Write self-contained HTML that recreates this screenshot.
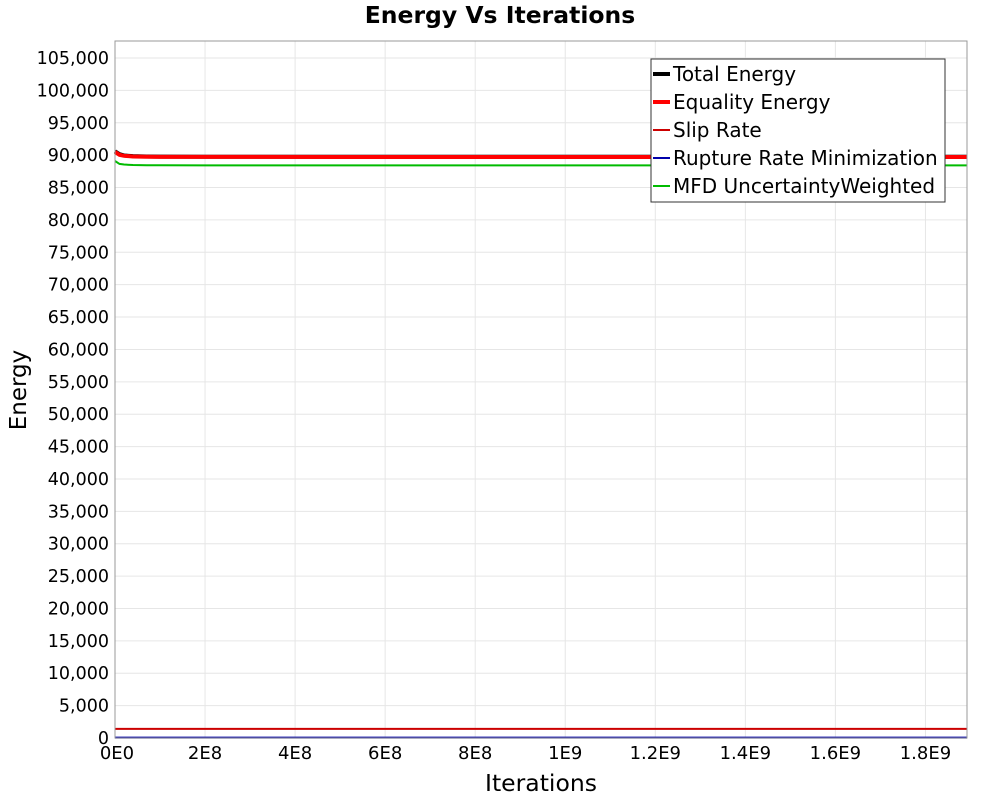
<!DOCTYPE html>
<html><head><meta charset="utf-8"><style>
body{margin:0;background:#fff;font-family:"DejaVu Sans","Liberation Sans",sans-serif;}
svg text{font-family:"DejaVu Sans","Liberation Sans",sans-serif;}
</style></head><body>
<svg id="chart" width="1000" height="800" xmlns="http://www.w3.org/2000/svg">
<rect width="1000" height="800" fill="#fff"/>
<text x="500" y="23" text-anchor="middle" font-size="23.5" font-weight="bold">Energy Vs Iterations</text>
<g id="grid"></g>
<g id="series"></g>
<rect x="115" y="41" width="852" height="697" fill="none" stroke="#999" stroke-width="1"/>
<g id="yticks"></g>
<g id="xticks"></g>
<text transform="translate(26,390) rotate(-90)" text-anchor="middle" font-size="23">Energy</text>
<text x="541" y="791" text-anchor="middle" font-size="23.5">Iterations</text>
<g id="legend"></g>
</svg>
<script>
const xVals=[0,0.1e8,0.2e8,0.4e8,0.7e8,1e8,2e8,5e8,10e8,15e8,19e8];
const totalEnergy=[90600,90150,89950,89850,89800,89780,89760,89750,89750,89750,89750];
const equalityEnergy=[90500,90050,89900,89800,89760,89740,89730,89720,89720,89720,89720];
const slipRate=[1400,1400,1400,1400,1400,1400,1400,1400,1400,1400,1400];
const ruptureRate=[60,60,60,60,60,60,60,60,60,60,60];
const mfdWeighted=[89100,88650,88550,88480,88450,88440,88430,88430,88430,88430,88430];
const yTicks=[0,5000,10000,15000,20000,25000,30000,35000,40000,45000,50000,55000,60000,65000,70000,75000,80000,85000,90000,95000,100000,105000];
const xTicks=[0,2e8,4e8,6e8,8e8,1e9,1.2e9,1.4e9,1.6e9,1.8e9];
const xTickLabels=["0E0","2E8","4E8","6E8","8E8","1E9","1.2E9","1.4E9","1.6E9","1.8E9"];
const NS="http://www.w3.org/2000/svg";
const X=v=>115+v/2e8*90.05;
const Y=v=>738-v/5000*32.38;
function mk(tag,attrs,parent){const e=document.createElementNS(NS,tag);for(const k in attrs)e.setAttribute(k,attrs[k]);parent.appendChild(e);return e;}
const grid=document.getElementById('grid'),yt=document.getElementById('yticks'),xt=document.getElementById('xticks');
yTicks.forEach(v=>{
 const l=mk('line',{x1:115,x2:967,y1:Y(v),y2:Y(v),stroke:'#e6e6e6'},grid);
 
 
 const t=mk('text',{x:109,y:Y(v)+6,'text-anchor':'end','font-size':17.5},yt);
 
 
 t.textContent=v.toLocaleString('en-US');
});
xTicks.forEach((v,i)=>{
 const l=mk('line',{x1:X(v),x2:X(v),y1:41,y2:738,stroke:'#e6e6e6'},grid);
 
 
 const t=mk('text',{x:X(v)+(i==0?2:0),y:759,'text-anchor':'middle','font-size':18},xt);
 
 
 t.textContent=xTickLabels[i];
});
const series=[
 {name:'Total Energy',vals:totalEnergy,color:'#000',w:4,id:'total-energy-line'},
 {name:'Equality Energy',vals:equalityEnergy,color:'#f00',w:4,id:'equality-energy-line'},
 {name:'Slip Rate',vals:slipRate,color:'#c00',w:2,id:'slip-rate-line'},
 {name:'Rupture Rate Minimization',vals:ruptureRate,color:'#00a',w:2,id:'rupture-rate-line'},
 {name:'MFD UncertaintyWeighted',vals:mfdWeighted,color:'#0b0',w:2,id:'mfd-line'}
];
const sg=document.getElementById('series');
series.forEach(s=>{
 const pts=xVals.map((x,i)=>Math.min(X(x),967)+','+Y(s.vals[i])).join(' ');
 const p=mk('polyline',{points:pts,fill:'none',stroke:s.color,'stroke-width':s.w},sg);
 
 
});
const lg=document.getElementById('legend');
const box=mk('rect',{x:651,y:59,width:294,height:143,fill:'#fff',stroke:'#333'},lg);


series.forEach((s,i)=>{
 const y=74+i*28;
 const l=mk('line',{x1:653,x2:670,y1:y,y2:y,stroke:s.color,'stroke-width':s.w},lg);
 
 
 const t=mk('text',{x:673,y:y+7,'font-size':20},lg);
 
 
 t.textContent=s.name;
});
</script>
</body></html>
